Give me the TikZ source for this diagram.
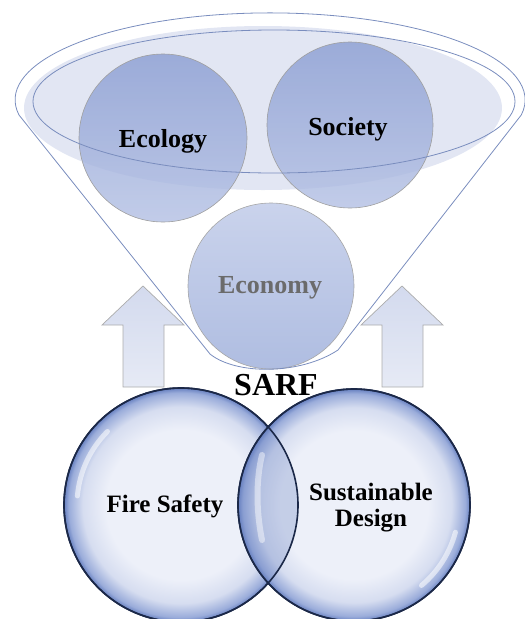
\documentclass[tikz,border=0pt]{standalone}
\usepackage{fontspec}
\setmainfont{Liberation Serif}
\definecolor{glassA}{HTML}{EDF0F9}
\definecolor{glassB}{HTML}{D6DDF0}
\definecolor{glassC}{HTML}{9AACDA}
\definecolor{glassD}{HTML}{6780C0}
\definecolor{navy}{HTML}{1B2848}
\definecolor{funnelline}{HTML}{7A8DBE}
\definecolor{ellfill}{HTML}{E2E6F3}
\definecolor{topA}{HTML}{8A9DD2}
\definecolor{topB}{HTML}{B2BFE3}
\definecolor{ecoA}{HTML}{CAD3EC}
\definecolor{ecoB}{HTML}{AFBDE1}
\definecolor{arrA}{HTML}{D3DAEE}
\definecolor{arrB}{HTML}{E6EAF5}
\definecolor{econtext}{HTML}{6B6B6B}
\pgfdeclareradialshading{glass}{\pgfpoint{0bp}{0bp}}{color(0bp)=(glassA); color(16bp)=(glassA); color(21bp)=(glassB); color(24bp)=(glassC); color(25bp)=(glassD); color(50bp)=(glassD)}
\tikzset{
  topcircle/.style={circle, inner sep=0pt, minimum size=#1, draw=gray!75, line width=0.6pt,
    top color=topA, bottom color=topB, fill opacity=0.8},
  ecocircle/.style={circle, inner sep=0pt, minimum size=#1, draw=gray!70, line width=0.6pt,
    top color=ecoA, bottom color=ecoB},
  glasscircle/.style={circle, inner sep=0pt, minimum size=#1, draw=navy, line width=1.6pt, shading=glass},
  toplabel/.style={font=\fontsize{26}{30}\selectfont\bfseries, anchor=base, inner sep=0pt},
  botlabel/.style={font=\fontsize{25}{26}\selectfont\bfseries, align=center, inner sep=0pt},
  funnelline/.style={draw=funnelline, line width=0.8pt},
  uparrow/.style={draw=gray!65, line width=0.7pt, top color=arrA, bottom color=arrB},
  shine/.style={white, line width=5pt, line cap=round, opacity=0.55}
}
\begin{document}
\begin{tikzpicture}[x=1pt,y=-1pt]
\useasboundingbox (0,0) rectangle (525,619);
% light ellipse fill of the funnel mouth
\fill[ellfill] (263,108) ellipse[x radius=239, y radius=82];
% Ecology & Society
\node[topcircle=168pt] (ecol) at (163,138) {};
\node[topcircle=166pt] (soc) at (350,125) {};
% inner ellipse outline
\draw[funnelline] (274,101.5) ellipse[x radius=241, y radius=71.5];
% arrows
\draw[uparrow] (143,286) -- (184,325) -- (164,325) -- (164,387) -- (123,387) -- (123,325) -- (102,325) -- cycle;
\draw[uparrow] (402,286) -- (443,325) -- (423,325) -- (423,387) -- (382,387) -- (382,325) -- (361,325) -- cycle;
% Economy
\node[ecocircle=166pt] (econ) at (271,286) {};
% funnel outline
\draw[funnelline] (19,115) arc[start angle=170, end angle=370, x radius=255, y radius=87]
  -- (338,350) .. controls (300,375) and (236,375) .. (210,354) -- cycle;
% labels top
\node[toplabel] (tecol) at (163,147) {Ecology};
\node[toplabel] (tsoc) at (348,135) {Society};
\node[toplabel, text=econtext] (tecon) at (270,293) {Economy};
% bottom circles
\node[glasscircle=234pt] (fire) at (181,505) {};
\node[glasscircle=232pt] (sust) at (354,505) {};
\begin{scope}
  \clip (fire.center) circle[radius=117];
  \fill[glassD, opacity=0.30] (sust.center) circle[radius=116];
  \draw[white, opacity=0.45, line width=6pt, line cap=round] (262,455) .. controls (256,480) and (256,510) .. (262,540);
\end{scope}
\draw[navy, line width=1.6pt] (fire.center) circle[radius=117];
\draw[navy, line width=1.6pt] (sust.center) circle[radius=116];
% highlights
\draw[shine] ([shift={(185:104)}]fire.center) arc[start angle=185, end angle=225, radius=104];
\draw[shine] ([shift={(15:105)}]sust.center) arc[start angle=15, end angle=50, radius=105];
% bottom labels
\node[botlabel] (tfire) at (165,506) {Fire Safety};
\node[botlabel] (tsust) at (371,508) {Sustainable\\Design};
% SARF
\node[font=\fontsize{32}{36}\selectfont\bfseries, inner sep=0pt] (sarf) at (276,385) {SARF};
\end{tikzpicture}
\end{document}
